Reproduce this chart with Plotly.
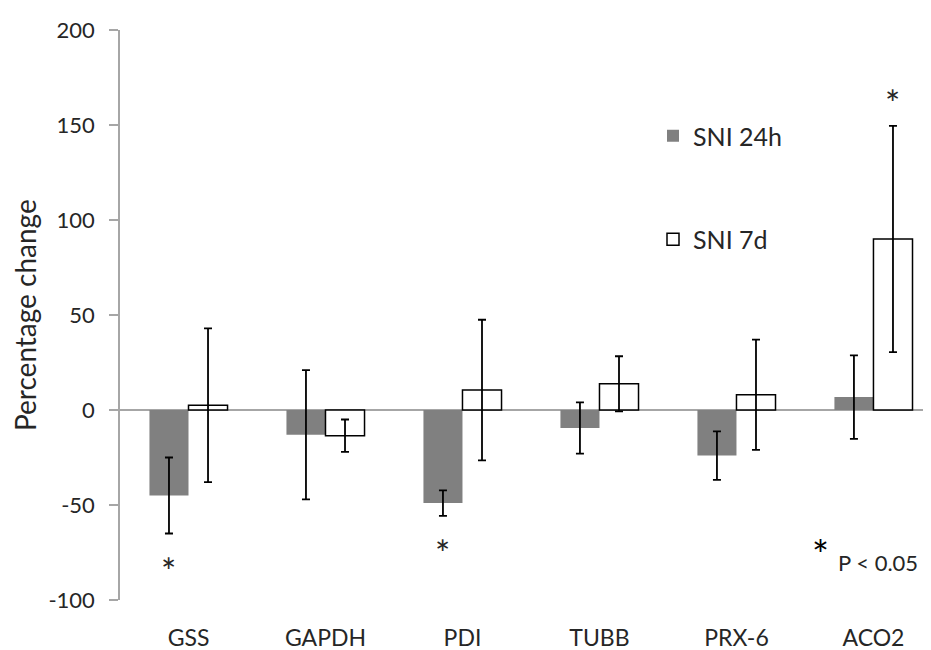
import plotly.graph_objects as go

categories = ["GSS", "GAPDH", "PDI", "TUBB", "PRX-6", "ACO2"]
sni_24h = [-45, -13, -49, -9.5, -24, 6.8]
sni_24h_err = [20, 34, 6.7, 13.5, 12.8, 22]
sni_7d = [2.5, -13.5, 10.5, 13.8, 8, 90]
sni_7d_err = [40.5, 8.5, 37, 14.5, 29, 59.5]
y_ticks = [-100, -50, 0, 50, 100, 150, 200]
y_tick_labels = ["-100", "-50", "0", "50", "100", "150", "200"]
# significance markers: (category index, series side, y value)
sig_marks = [(0, -1, -80.5), (2, -1, -71), (5, 1, 166)]

FONT = "Lato, Carlito, Calibri, sans-serif"
TXT = "#262626"
xpos = list(range(len(categories)))

# plot area in screenshot pixels (page has 8px body margin)
OFF = 8
PL, PR, PT, PB = 120, 931, 30, 600
PW, PH = PR - PL, PB - PT
FIG_W, FIG_H = 931 - OFF, 650 - OFF


def px(xp):
    return (xp - PL) / PW


def py(yp):
    return (PB - yp) / PH


fig = go.Figure()
fig.add_trace(go.Bar(
    x=xpos, y=sni_24h, name="SNI 24h", legendgroup="a",
    marker=dict(color="#808080", line=dict(width=0)),
    error_y=dict(type="data", array=sni_24h_err, visible=True,
                 color="black", thickness=1.8, width=4),
))
fig.add_trace(go.Bar(
    x=xpos, y=sni_7d, name="SNI 7d", legendgroup="b",
    marker=dict(color="white", line=dict(color="black", width=1.5)),
    error_y=dict(type="data", array=sni_7d_err, visible=True,
                 color="black", thickness=1.8, width=4),
))

bar_w = (1 - 0.43) / 2
for idx, side, yv in sig_marks:
    fig.add_annotation(x=idx + side * bar_w / 2, y=yv, text="*",
                       showarrow=False, xref="x", yref="y",
                       xanchor="center", yanchor="middle", yshift=-8,
                       font=dict(family=FONT, size=36, color=TXT))

fig.add_annotation(x=px(820), y=py(547), xref="paper", yref="paper", text="*",
                   xanchor="center", yanchor="middle", yshift=-8,
                   showarrow=False, font=dict(family=FONT, size=40, color="black"))
fig.add_annotation(x=px(878), y=py(562), xref="paper", yref="paper", text="P < 0.05",
                   xanchor="center", yanchor="middle",
                   showarrow=False, font=dict(family=FONT, size=22, color=TXT))
fig.add_annotation(x=px(25), y=py(315), xref="paper", yref="paper",
                   text="Percentage change", textangle=-90, showarrow=False,
                   xanchor="center", yanchor="middle",
                   font=dict(family=FONT, size=28, color=TXT))

band = PW / 5.92
x0 = -0.5
x1 = x0 + PW / band

fig.update_layout(
    width=FIG_W, height=FIG_H,
    margin=dict(l=PL - OFF, r=FIG_W - (PR - OFF), t=PT - OFF, b=FIG_H - (PB - OFF)),
    paper_bgcolor="white", plot_bgcolor="white",
    barmode="group", bargap=0.43, bargroupgap=0,
    showlegend=True,
    legend=dict(x=px(653), y=py(113), xanchor="left", yanchor="top",
                traceorder="grouped", tracegroupgap=68,
                font=dict(family=FONT, size=25, color=TXT),
                bgcolor="rgba(0,0,0,0)", itemwidth=30),
    font=dict(family=FONT, color=TXT),
    xaxis=dict(range=[x0, x1], tickvals=xpos, ticktext=categories,
               showline=False, showgrid=False, zeroline=False, ticks="",
               tickfont=dict(family=FONT, size=23, color=TXT),
               ticklabelstandoff=22),
    yaxis=dict(range=[-100, 200], tickvals=y_ticks, ticktext=y_tick_labels,
               showgrid=False,
               showline=True, linecolor="#a6a6a6", linewidth=1.5,
               ticks="outside", ticklen=9, tickcolor="#a6a6a6", tickwidth=1.5,
               zeroline=True, zerolinecolor="#a6a6a6", zerolinewidth=1.5,
               tickfont=dict(family=FONT, size=22, color=TXT),
               ticklabelstandoff=10),
)

fig.write_html("out.html")
